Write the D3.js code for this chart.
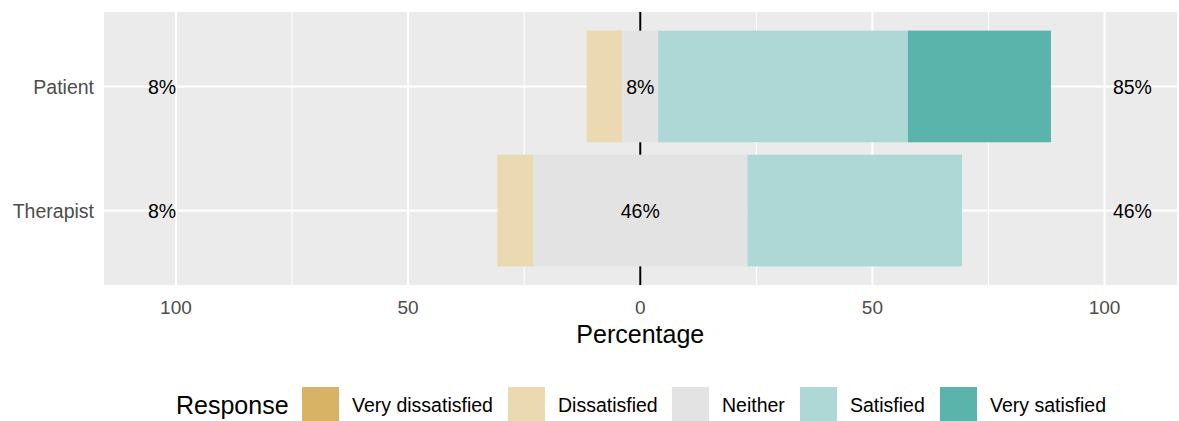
<!DOCTYPE html>
<html>
<head>
<meta charset="utf-8">
<script src="https://cdn.jsdelivr.net/npm/d3@7"></script>
<style>
  body { margin: 0; background: #fff; }
  text { font-family: "Liberation Sans", Arial, sans-serif; }
</style>
</head>
<body>
<svg width="1179" height="421"></svg>
<script>
// data
const categories = ["Patient", "Therapist"];
const levels = ["Very dissatisfied", "Dissatisfied", "Neither", "Satisfied", "Very satisfied"];
const veryDissatisfied = [0, 0];
const dissatisfied = [7.7, 7.7];
const neither = [7.7, 46.2];
const satisfied = [53.8, 46.2];
const verySatisfied = [30.8, 0];
const xTicks = [-100, -50, 0, 50, 100];
const xMinor = [-75, -25, 25, 75];
const colors = ["#D8B365", "#EBD9B2", "#E3E3E3", "#ADD8D5", "#5AB4AC"];

const svg = d3.select("svg");
const panel = { left: 104, right: 1177, top: 12, bottom: 285 };

const x = d3.scaleLinear().domain([-115.5, 115.6]).range([panel.left, panel.right]);
const y = d3.scalePoint().domain(categories).range([panel.top, panel.bottom]).padding(0.6);
const barH = y.step() * 0.9;
const color = d3.scaleOrdinal().domain(levels).range(colors);

// panel background + grid
svg.append("rect")
  .attr("x", panel.left).attr("y", panel.top)
  .attr("width", panel.right - panel.left).attr("height", panel.bottom - panel.top)
  .attr("fill", "#EBEBEB");

svg.selectAll(".minor").data(xMinor).enter().append("line")
  .attr("x1", d => x(d)).attr("x2", d => x(d))
  .attr("y1", panel.top).attr("y2", panel.bottom)
  .attr("stroke", "#fff").attr("stroke-width", 1);

svg.selectAll(".major").data(xTicks).enter().append("line")
  .attr("x1", d => x(d)).attr("x2", d => x(d))
  .attr("y1", panel.top).attr("y2", panel.bottom)
  .attr("stroke", "#fff").attr("stroke-width", 2);

svg.selectAll(".hgrid").data(categories).enter().append("line")
  .attr("x1", panel.left).attr("x2", panel.right)
  .attr("y1", d => y(d)).attr("y2", d => y(d))
  .attr("stroke", "#fff").attr("stroke-width", 2);

// centre line
svg.append("line")
  .attr("x1", x(0)).attr("x2", x(0))
  .attr("y1", panel.top).attr("y2", panel.bottom)
  .attr("stroke", "#000").attr("stroke-width", 2);

// build segments
const rows = categories.map((c, i) => ({
  cat: c,
  vals: [veryDissatisfied[i], dissatisfied[i], neither[i], satisfied[i], verySatisfied[i]]
}));

const segs = [];
rows.forEach(r => {
  const v = r.vals;
  const half = v[2] / 2;
  segs.push({ cat: r.cat, level: levels[1], x0: -half - v[1], x1: -half });
  segs.push({ cat: r.cat, level: levels[0], x0: -half - v[1] - v[0], x1: -half - v[1] });
  segs.push({ cat: r.cat, level: levels[2], x0: -half, x1: half });
  segs.push({ cat: r.cat, level: levels[3], x0: half, x1: half + v[3] });
  segs.push({ cat: r.cat, level: levels[4], x0: half + v[3], x1: half + v[3] + v[4] });
});

svg.selectAll(".bar").data(segs.filter(d => d.x1 > d.x0)).enter().append("rect")
  .attr("x", d => x(d.x0))
  .attr("width", d => x(d.x1) - x(d.x0))
  .attr("y", d => y(d.cat) - barH / 2)
  .attr("height", barH)
  .attr("fill", d => color(d.level));

// percentage labels
const fmt = v => Math.round(v) + "%";
rows.forEach(r => {
  const v = r.vals;
  const labs = [
    { xv: -103, t: fmt(v[0] + v[1]) },
    { xv: 0, t: fmt(v[2]) },
    { xv: 106, t: fmt(v[3] + v[4]) }
  ];
  labs.forEach(l => {
    svg.append("text")
      .attr("x", x(l.xv))
      .attr("y", y(r.cat) + 1)
      .attr("dy", "0.35em")
      .attr("text-anchor", "middle")
      .attr("font-size", 19.5)
      .attr("fill", "#000")
      .text(l.t);
  });
});

// y axis labels
svg.selectAll(".ylab").data(categories).enter().append("text")
  .attr("x", panel.left - 10)
  .attr("y", d => y(d) + 1)
  .attr("dy", "0.35em")
  .attr("text-anchor", "end")
  .attr("font-size", 19.5)
  .attr("fill", "#4D4D4D")
  .text(d => d);

// x axis labels
svg.selectAll(".xlab").data(xTicks).enter().append("text")
  .attr("x", d => x(d))
  .attr("y", 307)
  .attr("dy", "0.35em")
  .attr("text-anchor", "middle")
  .attr("font-size", 19)
  .attr("fill", "#4D4D4D")
  .text(d => Math.abs(d));

svg.append("text")
  .attr("x", x(0)).attr("y", 334)
  .attr("dy", "0.35em")
  .attr("text-anchor", "middle")
  .attr("font-size", 25)
  .attr("fill", "#000")
  .text("Percentage");

// legend
const legY = 405;
svg.append("text")
  .attr("x", 176).attr("y", legY)
  .attr("dy", "0.35em")
  .attr("font-size", 25)
  .text("Response");

const legX = [302, 508, 672, 800, 940];
const leg = svg.selectAll(".leg").data(levels).enter().append("g")
  .attr("transform", (d, i) => `translate(${legX[i]},${legY})`);
leg.append("rect")
  .attr("x", 0).attr("y", -18)
  .attr("width", 37).attr("height", 35)
  .attr("fill", d => color(d));
leg.append("text")
  .attr("x", 50).attr("y", 0)
  .attr("dy", "0.35em")
  .attr("font-size", 19.5)
  .text(d => d);
</script>
</body>
</html>
